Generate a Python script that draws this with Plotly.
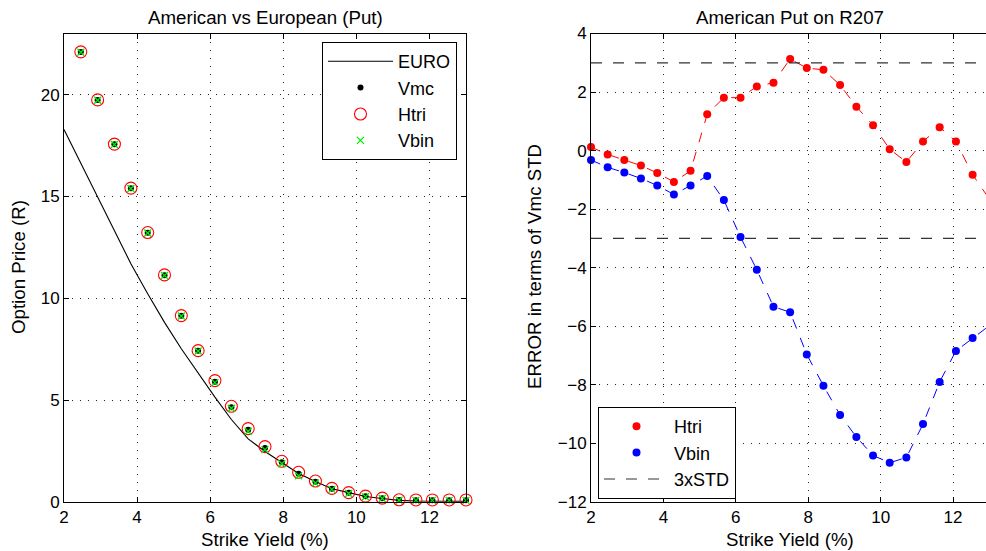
import plotly.graph_objects as go

# ---- data -------------------------------------------------------------
# strike yield grid (%)
strike_grid = [2.00, 2.46, 2.92, 3.38, 3.83, 4.29, 4.75, 5.21, 5.67, 6.13,
               6.58, 7.04, 7.50, 7.96, 8.42, 8.88, 9.33, 9.79, 10.25, 10.71,
               11.17, 11.63, 12.08, 12.54, 13.00]

# European put price on the full grid
euro_price = [18.29, 16.62, 14.97, 13.33, 11.70, 10.22, 8.82, 7.52, 6.32, 5.15,
              4.05, 3.10, 2.48, 1.92, 1.40, 1.01, 0.65, 0.46, 0.27, 0.17,
              0.08, 0.05, 0.04, 0.04, 0.04]

# American put prices (strikes from the second grid point onward)
amer_strikes = strike_grid[1:]
vmc_price = [22.09, 19.73, 17.56, 15.40, 13.22, 11.13, 9.14, 7.42, 5.90, 4.65,
             3.55, 2.65, 1.95, 1.39, 1.00, 0.65, 0.46, 0.28, 0.18, 0.10,
             0.08, 0.08, 0.08, 0.08]
htri_price = [22.10, 19.74, 17.57, 15.41, 13.23, 11.15, 9.15, 7.43, 5.96, 4.70,
              3.60, 2.72, 2.00, 1.46, 1.03, 0.67, 0.46, 0.29, 0.19, 0.11,
              0.10, 0.10, 0.10, 0.10]
vbin_price = [22.08, 19.72, 17.55, 15.39, 13.21, 11.12, 9.13, 7.41, 5.86, 4.60,
              3.47, 2.57, 1.88, 1.29, 0.93, 0.62, 0.42, 0.26, 0.17, 0.09,
              0.08, 0.08, 0.08, 0.08]

# pricing error in units of the Monte-Carlo standard deviation
htri_err = [0.12, -0.13, -0.32, -0.51, -0.76, -1.07, -0.69, 1.24, 1.81, 1.81,
            2.19, 2.32, 3.13, 2.82, 2.76, 2.24, 1.50, 0.87, 0.05, -0.39,
            0.31, 0.80, 0.31, -0.82, -1.65]
vbin_err = [-0.32, -0.57, -0.75, -0.95, -1.19, -1.50, -1.19, -0.87, -1.69, -2.95,
            -4.07, -5.33, -5.52, -6.96, -8.03, -9.03, -9.78, -10.41, -10.66, -10.48,
            -9.34, -7.90, -6.84, -6.40, -5.98]

std_band = 3  # 3xSTD threshold

# ---- styling ------------------------------------------------------------
W, H = 986, 551
FONT = "Liberation Sans, Arial, Helvetica, sans-serif"
TICK_FONT = dict(family=FONT, size=17, color="black")
LABEL_SIZE = 18.7


def px_x(p):
    return p / W


def px_y(p):
    return 1 - p / H


left_dom = [px_x(64), px_x(466)]
right_dom = [px_x(591), 1.0]
y_dom = [px_y(502), px_y(33.5)]

fig = go.Figure()

# left panel: American vs European
fig.add_trace(go.Scatter(x=strike_grid, y=euro_price, mode="lines", name="EURO",
                         line=dict(color="black", width=1.1),
                         xaxis="x", yaxis="y", legend="legend"))
fig.add_trace(go.Scatter(x=amer_strikes, y=vmc_price, mode="markers", name="Vmc",
                         marker=dict(symbol="circle", size=6, color="black"),
                         cliponaxis=False, xaxis="x", yaxis="y", legend="legend"))
fig.add_trace(go.Scatter(x=amer_strikes, y=htri_price, mode="markers", name="Htri",
                         marker=dict(symbol="circle-open", size=12, color="#ff0000",
                                     line=dict(width=1.1)),
                         cliponaxis=False, xaxis="x", yaxis="y", legend="legend"))
fig.add_trace(go.Scatter(x=amer_strikes, y=vbin_price, mode="markers", name="Vbin",
                         marker=dict(symbol="x-thin-open", size=7, color="#00ee00",
                                     line=dict(width=1.3, color="#00ee00")),
                         cliponaxis=False, xaxis="x", yaxis="y", legend="legend"))

# right panel: errors in STD units
dash_pat = "10px,10px"
fig.add_trace(go.Scatter(x=strike_grid, y=htri_err, mode="lines", showlegend=False,
                         line=dict(color="#ff0000", width=1, dash=dash_pat),
                         xaxis="x2", yaxis="y2"))
fig.add_trace(go.Scatter(x=strike_grid, y=vbin_err, mode="lines", showlegend=False,
                         line=dict(color="#0000ff", width=1, dash=dash_pat),
                         xaxis="x2", yaxis="y2"))
fig.add_trace(go.Scatter(x=strike_grid, y=htri_err, mode="markers", name="Htri",
                         marker=dict(size=8, color="#ff0000"), cliponaxis=False,
                         xaxis="x2", yaxis="y2", legend="legend2"))
fig.add_trace(go.Scatter(x=strike_grid, y=vbin_err, mode="markers", name="Vbin",
                         marker=dict(size=8, color="#0000ff"), cliponaxis=False,
                         xaxis="x2", yaxis="y2", legend="legend2"))
x_lo, x_hi = strike_grid[0], strike_grid[-1]
fig.add_trace(go.Scatter(x=[x_lo, x_hi, None, x_lo, x_hi],
                         y=[std_band, std_band, None, -std_band, -std_band],
                         mode="lines", name="3xSTD",
                         line=dict(color="#333333", width=1.2, dash="11px,11px"),
                         xaxis="x2", yaxis="y2", legend="legend2"))

axis_common = dict(
    showline=True, linecolor="black", linewidth=1,
    ticks="inside", ticklen=5, tickwidth=1, tickcolor="black",
    showgrid=True, gridcolor="#222222", gridwidth=1, griddash="1px,7px",
    zeroline=False, tickfont=TICK_FONT, automargin=False,
)

legend_common = dict(
    bgcolor="white", bordercolor="black", borderwidth=1,
    font=dict(family=FONT, size=18, color="black"),
    itemwidth=65, xanchor="left", yanchor="top",
    traceorder="normal", tracegroupgap=0,
)

fig.update_layout(
    width=W, height=H,
    margin=dict(l=0, r=0, t=0, b=0, pad=0, autoexpand=False),
    paper_bgcolor="white", plot_bgcolor="white",
    font=dict(family=FONT, color="black"),
    xaxis=dict(domain=left_dom, range=[2, 13], tickvals=[2, 4, 6, 8, 10, 12],
               mirror="ticks", anchor="y", **axis_common),
    yaxis=dict(domain=y_dom, range=[0, 23], tickvals=[0, 5, 10, 15, 20],
               mirror="ticks", anchor="x", **axis_common),
    xaxis2=dict(domain=right_dom, range=[2, 12.91], tickvals=[2, 4, 6, 8, 10, 12],
                mirror="ticks", anchor="y2", **axis_common),
    yaxis2=dict(domain=y_dom, range=[-12, 4],
                tickvals=[-12, -10, -8, -6, -4, -2, 0, 2, 4],
                mirror=False, anchor="x2", **axis_common),
    legend=dict(x=px_x(322), y=px_y(42), **legend_common),
    legend2=dict(x=px_x(598), y=px_y(407), **legend_common),
    showlegend=True,
)

label_font = dict(family=FONT, size=LABEL_SIZE, color="black")
annotations = [
    dict(text="American vs European (Put)", x=px_x(265), y=px_y(18)),
    dict(text="American Put on R207", x=px_x(790), y=px_y(18)),
    dict(text="Strike Yield (%)", x=px_x(265), y=px_y(539)),
    dict(text="Strike Yield (%)", x=px_x(790), y=px_y(539)),
    dict(text="Option Price (R)", x=px_x(18), y=px_y(267), textangle=-90),
    dict(text="ERROR in terms of Vmc STD", x=px_x(534), y=px_y(267), textangle=-90),
]
for a in annotations:
    fig.add_annotation(xref="paper", yref="paper", showarrow=False,
                       xanchor="center", yanchor="middle", font=label_font, **a)

fig.write_html("out.html")
